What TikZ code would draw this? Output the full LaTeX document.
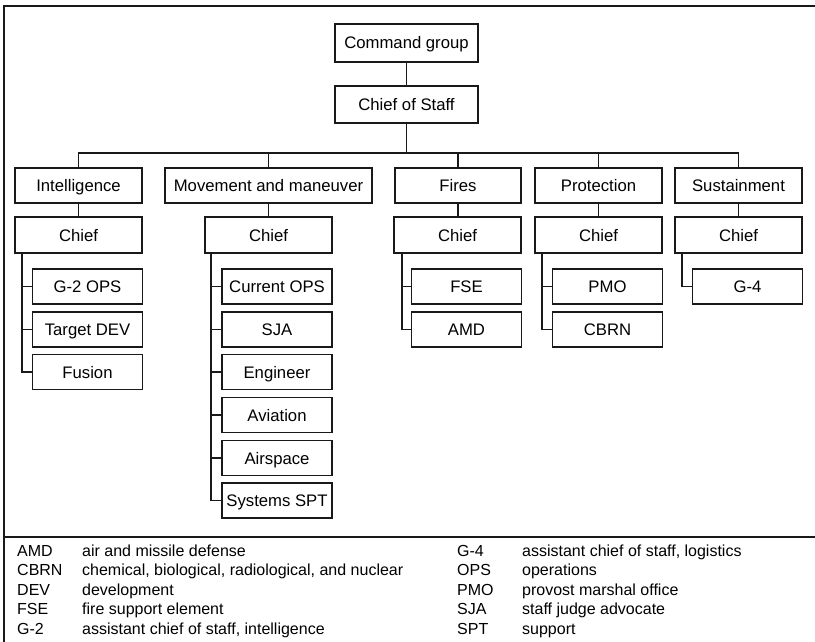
\documentclass[tikz,border=0pt]{standalone}
\usepackage{fontspec}
\setmainfont{Liberation Sans}
\begin{document}
\begin{tikzpicture}[x=1pt,y=-1pt,
  box/.style={draw=black!90, line width=1.7pt, inner sep=0pt,
    font=\fontsize{16.7}{20}\selectfont, text height=12pt, text depth=0pt,
    minimum height=35pt},
  unit/.style={box, minimum width=127pt},
  sub/.style={box, minimum width=110pt},
  link/.style={draw=black!90, line width=1.7pt},
  frame/.style={draw=black!90, line width=2.2pt},
  leg/.style={anchor=west, inner sep=0pt, font=\fontsize{16}{19}\selectfont,
    text height=11.5pt, text depth=0pt}]
\useasboundingbox (0,0) rectangle (815,642);

% outer frame and legend divider
\draw[frame] (815,6) -| (4,642);
\draw[frame] (4,537) -- (815,537);

% top of the hierarchy
\node[box, minimum width=143pt, minimum height=38pt] (cmd) at (406.5,43) {Command group};
\node[box, minimum width=143pt, minimum height=37pt] (cos) at (406.5,104.5) {Chief of Staff};

% warfighting functions
\node[unit] (intel) at (78.5,185.5) {Intelligence};
\node[box, minimum width=207pt] (mvmt) at (268.5,185.5) {Movement and maneuver};
\node[box, minimum width=126pt] (fires) at (458,185.5) {Fires};
\node[unit] (prot) at (598.5,185.5) {Protection};
\node[unit] (sust) at (738.5,185.5) {Sustainment};

% chiefs
\node[unit, minimum height=36pt] (ichief) at (78.5,235) {Chief};
\node[unit, minimum height=36pt] (mchief) at (268.5,235) {Chief};
\node[unit, minimum height=36pt] (fchief) at (457.5,235) {Chief};
\node[unit, minimum height=36pt] (pchief) at (598.5,235) {Chief};
\node[unit, minimum height=36pt] (schief) at (738.5,235) {Chief};

% cells
\node[sub] (g2ops) at (87.5,286.5) {G-2 OPS};
\node[sub] (tdev)  at (87.5,329.5) {Target DEV};
\node[sub] (fus)   at (87.5,372) {Fusion};

\node[sub] (curops) at (277,286.5) {Current OPS};
\node[sub] (sja)    at (277,329.5) {SJA};
\node[sub] (eng)    at (277,372) {Engineer};
\node[sub] (avn)    at (277,415) {Aviation};
\node[sub] (asp)    at (277,458) {Airspace};
\node[sub] (sysspt) at (277,500.5) {Systems SPT};

\node[sub] (fse) at (466.5,286.5) {FSE};
\node[sub] (amd) at (466.5,329.5) {AMD};

\node[sub] (pmo)  at (607.5,286.5) {PMO};
\node[sub] (cbrn) at (607.5,329.5) {CBRN};

\node[sub] (g4) at (747.5,286.5) {G-4};

% connectors
\coordinate (bus) at (0,153);
\draw[link] (cmd) -- (cos);
\draw[link] (cos.south) -- (cos.south |- bus);
\draw[link] (intel.north) -- (intel.north |- bus) -- (sust.north |- bus) -- (sust.north);
\foreach \n in {mvmt,fires,prot}
  \draw[link] (\n.north) -- (\n.north |- bus);
\draw[link] (intel) -- (ichief);
\draw[link] (mvmt) -- (mchief);
\draw[link] (fires.south) -- (fires.south |- fchief.north);
\draw[link] (prot) -- (pchief);
\draw[link] (sust) -- (schief);

\coordinate (ispine) at ([xshift=8pt]ichief.south west);
\coordinate (mspine) at ([xshift=7pt]mchief.south west);
\coordinate (fspine) at ([xshift=9pt]fchief.south west);
\coordinate (pspine) at ([xshift=8pt]pchief.south west);
\coordinate (sspine) at ([xshift=8pt]schief.south west);

\draw[link] (ispine) |- (fus.west);
\foreach \n in {g2ops,tdev} \draw[link] (\n.west) -- (\n.west -| ispine);
\draw[link] (mspine) |- (sysspt.west);
\foreach \n in {curops,sja,eng,avn,asp} \draw[link] (\n.west) -- (\n.west -| mspine);
\draw[link] (fspine) |- (amd.west);
\draw[link] (fse.west) -- (fse.west -| fspine);
\draw[link] (pspine) |- (cbrn.west);
\draw[link] (pmo.west) -- (pmo.west -| pspine);
\draw[link] (sspine) |- (g4.west);

% legend
\node[leg] (a1) at (17,550.5) {AMD};
\node[leg] (a2) at (17,570) {CBRN};
\node[leg] (a3) at (17,589.5) {DEV};
\node[leg] (a4) at (17,609) {FSE};
\node[leg] (a5) at (17,628.5) {G-2};
\node[leg] (d1) at (82,550.5) {air and missile defense};
\node[leg] (d2) at (82,570) {chemical, biological, radiological, and nuclear};
\node[leg] (d3) at (82,589.5) {development};
\node[leg] (d4) at (82,609) {fire support element};
\node[leg] (d5) at (82,628.5) {assistant chief of staff, intelligence};

\node[leg] (b1) at (457,550.5) {G-4};
\node[leg] (b2) at (457,570) {OPS};
\node[leg] (b3) at (457,589.5) {PMO};
\node[leg] (b4) at (457,609) {SJA};
\node[leg] (b5) at (457,628.5) {SPT};
\node[leg] (e1) at (522,550.5) {assistant chief of staff, logistics};
\node[leg] (e2) at (522,570) {operations};
\node[leg] (e3) at (522,589.5) {provost marshal office};
\node[leg] (e4) at (522,609) {staff judge advocate};
\node[leg] (e5) at (522,628.5) {support};
\end{tikzpicture}
\end{document}
